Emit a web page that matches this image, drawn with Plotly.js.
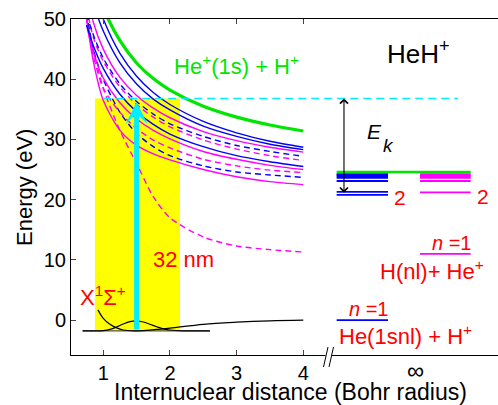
<!DOCTYPE html>
<html><head><meta charset="utf-8">
<script src="https://cdn.plot.ly/plotly-3.0.1.min.js"></script>
<style>html,body{margin:0;padding:0;background:#fff}#p{width:498px;height:405px}</style>
</head><body><div id="p"></div>
<script>
// Internuclear distance grid (Bohr radius)
const R = [0.75, 0.85, 1.0, 1.25, 1.5, 1.75, 2.0, 2.5, 3.0, 3.5, 4.0];
// Potential curves (eV)
const greenHe1s = [60.9, 56.6, 51.8, 46.4, 42.7, 40.1, 38.2, 35.5, 33.7, 32.4, 31.4];
const blueSolidA = [59.5, 55.0, 50.0, 44.3, 40.5, 37.8, 35.8, 33.0, 31.1, 29.7, 28.7];
const blueSolidB = [56.8, 52.6, 48.0, 42.7, 39.2, 36.7, 34.9, 32.2, 30.5, 29.2, 28.3];
const blueSolidC = [49.0, 45.6, 41.8, 37.5, 34.6, 32.5, 30.9, 28.8, 27.3, 26.3, 25.5];
const blueDashA = [50.8, 47.4, 43.5, 39.2, 36.3, 34.2, 32.6, 30.5, 29.0, 28.0, 27.2];
const blueDashB = [51.0, 45.0, 40.0, 34.5, 31.0, 28.8, 27.3, 25.6, 24.6, 24.1, 23.7];
const magSolidA = [55.0, 49.5, 45.0, 40.3, 37.3, 35.2, 33.6, 31.3, 29.8, 28.7, 27.9];
const magSolidB = [49.0, 44.5, 40.2, 36.1, 33.4, 31.5, 30.1, 28.0, 26.7, 25.7, 25.0];
const magSolidC = [50.0, 43.0, 36.5, 31.5, 29.0, 27.6, 26.6, 25.0, 23.8, 23.0, 22.5];
const magDashA = [52.0, 47.0, 43.0, 38.7, 35.8, 33.7, 32.1, 29.9, 28.4, 27.3, 26.5];
const magDashB = [50.0, 44.0, 38.5, 34.5, 31.8, 29.9, 28.6, 26.7, 25.6, 24.9, 24.5];
const magDashC = [50.0, 45.0, 38.5, 31.5, 26.0, 20.5, 17.0, 13.8, 12.3, 11.7, 11.3];
// Ground state X1Sigma+
const groundR = [0.92, 1.0, 1.1, 1.2, 1.3, 1.46, 1.6, 1.8, 2.0, 2.5, 3.0, 3.5, 4.0];
const groundE = [1.7, 0.3, -0.7, -1.3, -1.65, -1.8, -1.75, -1.55, -1.35, -0.7, -0.35, -0.12, 0.0];
// vibrational wavefunction
const waveR = [0.69, 0.9, 1.0, 1.1, 1.2, 1.3, 1.4, 1.5, 1.6, 1.7, 1.8, 1.9, 2.0, 2.2, 2.6];
const waveE = [-1.8, -1.79, -1.74, -1.55, -1.15, -0.65, -0.27, -0.15, -0.32, -0.7, -1.1, -1.45, -1.65, -1.78, -1.8];
const groundLevelR = [0.69, 2.6];
const groundLevelE = -1.8;
// Franck-Condon region and photon energy
const fcR = [0.875, 2.15];
const photonE = 36.8;
const photonR = 1.5;
const photonLineR = [1.0, 6.32];
// Asymptotic levels (eV)
const blueLimitR = [4.5, 5.27];
const magLimitR = [5.75, 6.51];
const greenLimitR = [4.5, 6.51];
const blueLevels = [0, 20.8, 21.3, 23.1, 23.6, 23.85, 24.05, 24.25];
const magLevels = [11.0, 21.2, 23.1, 23.6, 23.85, 24.05, 24.25];
const greenLevel = 24.59;
const ekLow = 20.9;
const ekR = 4.61;

const BLUE = '#0000ff', MAG = '#ff00ff', GREEN = '#00e600', RED = '#ff0000', CYAN = '#00eeff';
const traces = [];
traces.push({x: [fcR[0], fcR[1], fcR[1], fcR[0], fcR[0]], y: [groundLevelE, groundLevelE, photonE, photonE, groundLevelE],
  mode: 'lines', fill: 'toself', fillcolor: '#ffff00', line: {width: 0, color: '#ffff00'}, hoverinfo: 'skip'});
function curve(y, color, dash, w) {
  traces.push({x: R, y: y, mode: 'lines', line: {color: color, width: w || 1.4, dash: dash || 'solid', shape: 'spline', smoothing: 0.8}});
}
curve(magDashC, MAG, '6px,4px');
curve(magSolidC, MAG);
curve(blueDashB, BLUE, '6px,4px');
curve(magDashB, MAG, '6px,4px');
curve(magSolidB, MAG);
curve(blueSolidC, BLUE);
curve(magDashA, MAG, '6px,4px');
curve(blueDashA, BLUE, '6px,4px');
curve(magSolidA, MAG);
curve(blueSolidB, BLUE);
curve(blueSolidA, BLUE);
curve(greenHe1s, GREEN, 'solid', 3.2);
traces.push({x: photonLineR, y: [photonE, photonE], mode: 'lines', line: {color: CYAN, width: 1.5, dash: '8px,5px'}});
traces.push({x: groundLevelR, y: [groundLevelE, groundLevelE], mode: 'lines', line: {color: '#555', width: 1.2}});
traces.push({x: groundR, y: groundE, mode: 'lines', line: {color: '#000', width: 1.2, shape: 'spline'}});
traces.push({x: waveR, y: waveE, mode: 'lines', line: {color: '#000', width: 1.2, shape: 'spline'}});
blueLevels.forEach(v => traces.push({x: blueLimitR, y: [v, v], mode: 'lines', line: {color: BLUE, width: 1.8}}));
magLevels.forEach(v => traces.push({x: magLimitR, y: [v, v], mode: 'lines', line: {color: MAG, width: 1.8}}));
traces.push({x: greenLimitR, y: [greenLevel, greenLevel], mode: 'lines', line: {color: GREEN, width: 2.5}});

const F = 'Liberation Sans, Arial, sans-serif';
function txt(x, y, text, color, size, extra) {
  return Object.assign({x: x, y: y, xref: 'x', yref: 'y', text: text, showarrow: false, xanchor: 'left', yanchor: 'middle',
    font: {family: F, size: size, color: color}}, extra || {});
}
const X0 = 71, W = 427, Y0 = 355, H = 336;
const px = v => (v - X0) / W, py = v => (Y0 - v) / H;
function ptxt(x, y, text, size, extra) {
  return Object.assign({x: px(x), y: py(y), xref: 'paper', yref: 'paper', text: text, showarrow: false,
    xanchor: 'center', yanchor: 'middle', font: {family: F, size: size, color: '#000'}}, extra || {});
}
const annotations = [
  txt(2.025, 42.4, 'He<sup>+</sup>(1s) + H<sup>+</sup>', GREEN, 22),
  txt(5.22, 44.4, 'HeH<sup>+</sup>', '#000', 26),
  txt(4.93, 31.3, '<i>E</i>', '#000', 21),
  txt(5.16, 29.0, '<i>k</i>', '#000', 19),
  txt(5.33, 20.3, '2', RED, 21),
  txt(6.58, 20.6, '2', RED, 21),
  txt(5.9, 12.8, '<i>n</i> =1', RED, 20),
  txt(5.12, 8.3, 'H(nl)+ He<sup>+</sup>', RED, 22),
  txt(4.65, 1.8, '<i>n</i> =1', RED, 20),
  txt(4.5, -2.5, 'He(1snl) + H<sup>+</sup>', RED, 22),
  txt(0.62, 4.0, 'X<sup>1</sup>Σ<sup>+</sup>', RED, 22),
  txt(1.71, 10.0, '32 nm', RED, 22),
  {x: photonR, y: 36.2, ax: photonR, ay: groundLevelE, xref: 'x', yref: 'y', axref: 'x', ayref: 'y', text: '', showarrow: true,
    arrowhead: 3, arrowsize: 0.75, arrowwidth: 5, arrowcolor: CYAN},
  {x: ekR, y: photonE, ax: ekR, ay: ekLow, xref: 'x', yref: 'y', axref: 'x', ayref: 'y', text: '', showarrow: true,
    arrowhead: 4, arrowside: 'end+start', arrowsize: 1.4, arrowwidth: 1.1, arrowcolor: '#000'},
  ptxt(415, 370, '∞', 24),
  ptxt(290, 392, 'Internuclear distance (Bohr radius)', 23),
  ptxt(24, 188, 'Energy (eV)', 22, {textangle: -90})
];
const shapes = [
  {type: 'rect', xref: 'paper', yref: 'paper', x0: px(325.5), x1: px(331.5), y0: py(357), y1: py(353), fillcolor: '#fff', line: {width: 0}},
  {type: 'line', xref: 'paper', yref: 'paper', x0: px(323.5), y0: py(367), x1: px(328), y1: py(347), line: {color: '#000', width: 1}},
  {type: 'line', xref: 'paper', yref: 'paper', x0: px(329), y0: py(367), x1: px(333.5), y1: py(347), line: {color: '#000', width: 1}}
];
const layout = {
  width: 498, height: 405, margin: {l: 71, r: 0, t: 19, b: 50},
  paper_bgcolor: '#fff', plot_bgcolor: '#fff', showlegend: false,
  font: {family: F, size: 20, color: '#000'},
  xaxis: {range: [0.516, 6.92], tickvals: [1, 2, 3, 4], ticktext: ['1', '2', '3', '4'], ticks: 'inside', ticklen: 5,
    showline: true, linecolor: '#000', linewidth: 1, mirror: 'ticks', showgrid: false, zeroline: false,
    tickfont: {family: F, size: 20, color: '#000'}},
  yaxis: {range: [-5.8, 50], tickvals: [0, 10, 20, 30, 40, 50], ticks: 'inside', ticklen: 5,
    showline: true, linecolor: '#000', linewidth: 1, showgrid: false, zeroline: false,
    tickfont: {family: F, size: 20, color: '#000'}},
  annotations: annotations, shapes: shapes
};
Plotly.newPlot('p', traces, layout, {staticPlot: true});
</script></body></html>
